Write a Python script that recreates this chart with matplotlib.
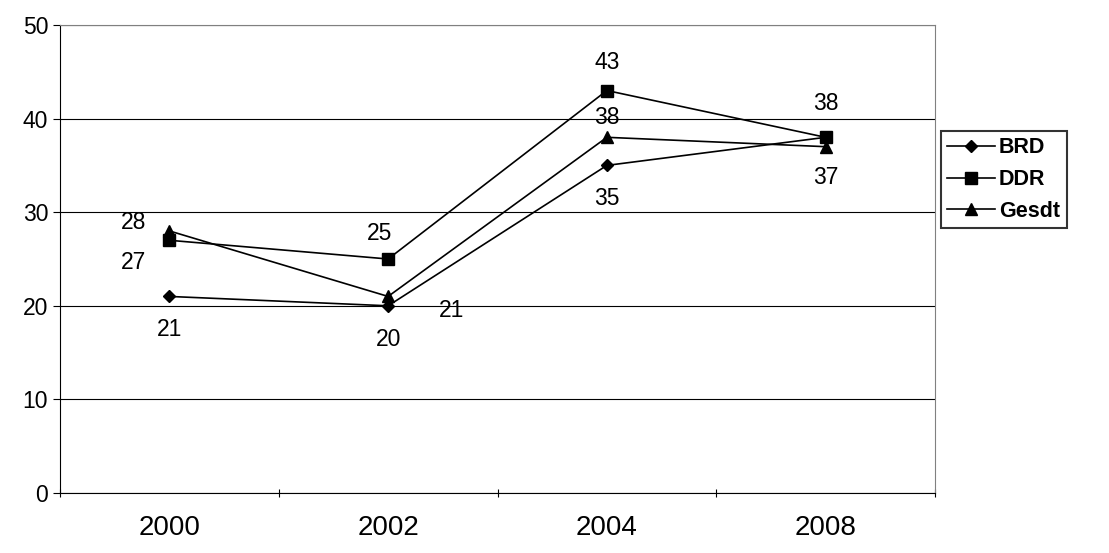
import numpy as np
import matplotlib.pyplot as plt

plt.rcParams['font.family'] = ['Liberation Sans', 'DejaVu Sans']

years = ['2000', '2002', '2004', '2008']
brd = [21, 20, 35, 38]
ddr = [27, 25, 43, 38]
gesdt = [28, 21, 38, 37]

# label offsets (points) per series; None = no label
brd_off = [(0, -24), (0, -24), (0, -24), None]
ddr_off = [(-26, -16), (-6, 18), (0, 20), (0, 24)]
ges_off = [(-26, 6), (46, -10), (0, 14), (0, -22)]

fig = plt.figure(figsize=(11.09, 5.53), dpi=100)
ax = fig.add_axes([60 / 1109, 60 / 553, 875 / 1109, 468 / 553])

x = np.arange(len(years))
ax.plot(x, brd, color='black', marker='D', markersize=6, lw=1.2, label='BRD')
ax.plot(x, ddr, color='black', marker='s', markersize=8, lw=1.2, label='DDR')
ax.plot(x, gesdt, color='black', marker='^', markersize=8, lw=1.2, label='Gesdt')

for vals, offs in [(brd, brd_off), (ddr, ddr_off), (gesdt, ges_off)]:
    for i, (v, o) in enumerate(zip(vals, offs)):
        if o is None:
            continue
        ax.annotate(str(v), (x[i], v), xytext=o, textcoords='offset points',
                    ha='center', va='center', fontsize=16.5)

ax.set_xlim(-0.5, 3.5)
ax.set_ylim(0, 50)
ax.set_yticks(range(0, 51, 10))
ax.yaxis.grid(True, color='black', lw=0.8)
ax.set_axisbelow(True)
ax.set_xticks(np.arange(-0.5, 3.6, 1))
ax.set_xticklabels([])
ax.set_xticks(x, minor=True)
ax.set_xticklabels(years, minor=True, fontsize=20)
ax.tick_params(axis='x', which='minor', length=0, pad=16)
ax.tick_params(axis='x', which='major', length=6, direction='inout')
ax.tick_params(axis='y', labelsize=16.5, length=5, direction='out')
for s in ['top', 'right']:
    ax.spines[s].set_color('#808080')
ax.spines['left'].set_color('black')
ax.spines['bottom'].set_color('black')

leg = fig.legend(loc='upper left', bbox_to_anchor=(941 / 1109, 1 - 131 / 553),
                 frameon=True, fancybox=False, edgecolor='black',
                 prop={'weight': 'bold', 'size': 15.5}, handlelength=2.2,
                 handletextpad=0.2, borderpad=0.3, labelspacing=0.5,
                 borderaxespad=0)
leg.get_frame().set_linewidth(1.5)

fig.savefig('out.png', dpi=100)
